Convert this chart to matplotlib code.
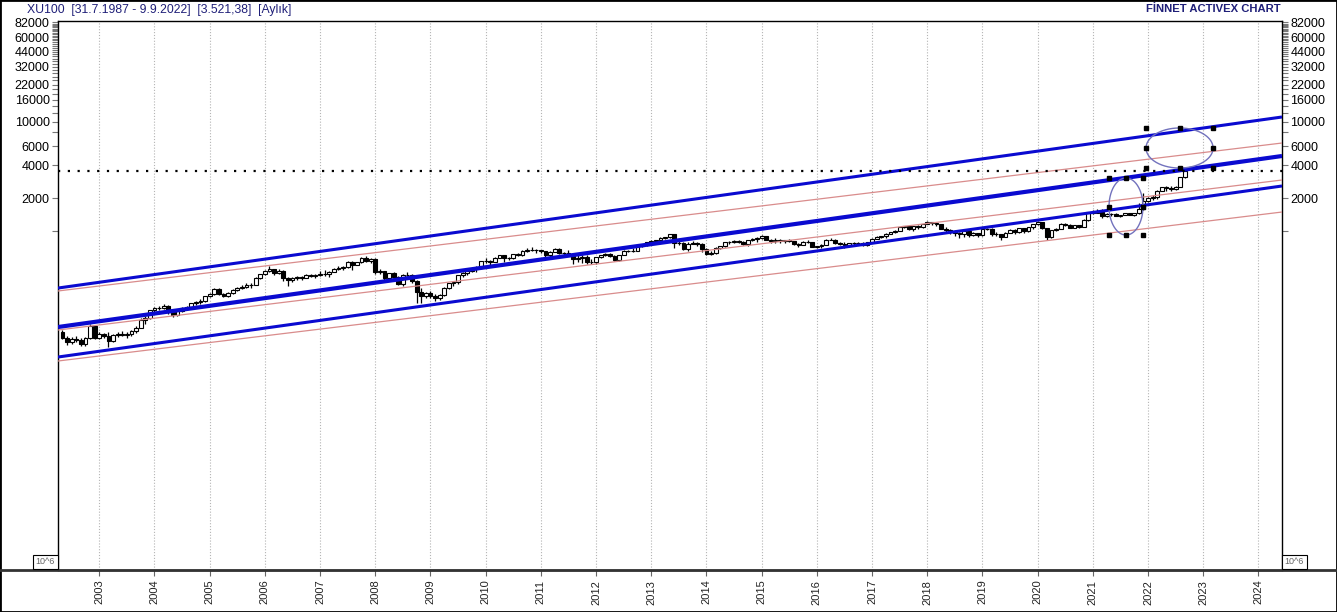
import numpy as np
import matplotlib
matplotlib.use("Agg")
import matplotlib.pyplot as plt
from matplotlib.lines import Line2D
from matplotlib.patches import Rectangle
from matplotlib.ticker import FixedLocator, FuncFormatter, NullLocator

# XU100 aylik mumlar: Mayis 2002 - Eylul 2022 (her satir bir yil)
first_year, first_month = 2002, 5

opens = [
    118, 104, 95, 102, 100, 92, 103, 134,
    104, 113, 109, 97, 110, 112, 111, 112, 119, 129, 153, 158,
    186, 194, 197, 206, 178, 170, 182, 196, 198, 215, 221, 226,
    250, 262, 290, 260, 253, 268, 283, 301, 307, 321, 318, 370,
    398, 425, 443, 410, 425, 370, 356, 370, 377, 371, 393, 388,
    391, 405, 404, 422, 449, 460, 467, 520, 488, 513, 565, 530,
    554, 416, 425, 367, 409, 374, 326, 396, 391, 345, 274, 251,
    268, 253, 239, 256, 301, 329, 338, 391, 411, 426, 442, 455,
    528, 527, 518, 567, 597, 557, 563, 607, 597, 657, 673, 663,
    661, 648, 594, 644, 679, 630, 631, 615, 550, 566, 570, 521,
    513, 574, 596, 617, 592, 539, 601, 654, 649, 659, 724, 735,
    787, 806, 815, 858, 876, 933, 768, 773, 677, 761, 776, 751,
    674, 617, 626, 699, 721, 788, 786, 799, 796, 749, 815, 848,
    858, 888, 824, 801, 823, 800, 820, 807, 754, 744, 794, 781,
    717, 723, 746, 830, 829, 772, 763, 739, 767, 765, 777, 740,
    781, 845, 883, 887, 943, 982, 1005, 1073, 1103, 1028, 1095, 1083,
    1153, 1205, 1175, 1148, 1049, 1021, 967, 959, 926, 991, 907, 946,
    913, 1043, 1029, 931, 927, 886, 963, 1022, 972, 1050, 995, 1074,
    1144, 1196, 1050, 877, 1010, 1040, 1158, 1121, 1065, 1129, 1086, 1248,
    1477, 1471, 1484, 1362, 1414, 1423, 1375, 1391, 1465, 1389, 1457, 1580,
    1858, 1992, 2025, 2334, 2527, 2468, 2407, 2524, 3093,
]
highs = [
    122, 108, 106, 108, 103, 106, 140, 137,
    118, 116, 117, 113, 118, 121, 118, 122, 133, 157, 166, 189,
    200, 205, 214, 210, 185, 185, 198, 203, 218, 228, 235, 252,
    270, 296, 300, 270, 272, 290, 305, 315, 335, 333, 375, 400,
    438, 470, 450, 445, 435, 380, 380, 385, 388, 400, 405, 400,
    425, 440, 428, 455, 470, 478, 525, 530, 520, 580, 590, 565,
    560, 445, 430, 412, 420, 385, 400, 420, 400, 355, 300, 275,
    280, 262, 262, 305, 335, 345, 395, 420, 432, 460, 470, 530,
    565, 540, 575, 605, 600, 580, 610, 625, 660, 690, 715, 675,
    670, 655, 650, 700, 690, 640, 660, 620, 600, 600, 600, 550,
    575, 605, 625, 630, 600, 605, 660, 670, 690, 735, 745, 790,
    820, 825, 870, 885, 935, 935, 800, 790, 790, 805, 790, 770,
    700, 650, 705, 730, 795, 805, 820, 830, 805, 820, 855, 875,
    915, 895, 845, 850, 835, 830, 835, 810, 780, 810, 815, 790,
    730, 750, 835, 865, 835, 790, 790, 780, 785, 790, 785, 785,
    850, 890, 905, 950, 985, 1010, 1080, 1105, 1110, 1100, 1120, 1160,
    1220, 1210, 1185, 1160, 1085, 1030, 1010, 980, 1000, 1000, 970, 960,
    1050, 1070, 1055, 975, 940, 970, 1040, 1030, 1060, 1070, 1085, 1150,
    1240, 1210, 1070, 1020, 1050, 1180, 1170, 1155, 1135, 1140, 1270, 1480,
    1550, 1570, 1590, 1450, 1460, 1445, 1410, 1470, 1470, 1460, 1810, 2200,
    2040, 2110, 2350, 2540, 2560, 2560, 2590, 3120, 3560,
]
lows = [
    101, 90, 91, 96, 88, 87, 101, 101,
    102, 103, 86, 95, 105, 107, 104, 108, 115, 127, 140, 154,
    180, 186, 190, 172, 160, 165, 178, 188, 195, 210, 212, 222,
    244, 258, 255, 245, 245, 262, 278, 290, 300, 300, 315, 360,
    392, 418, 395, 405, 345, 310, 342, 352, 355, 368, 375, 370,
    385, 385, 380, 415, 432, 435, 460, 435, 480, 505, 520, 505,
    400, 405, 350, 360, 370, 318, 310, 385, 330, 215, 215, 240,
    240, 228, 233, 252, 295, 310, 325, 380, 395, 415, 420, 450,
    510, 490, 515, 560, 520, 535, 555, 585, 590, 645, 655, 630,
    620, 580, 570, 640, 615, 595, 610, 500, 520, 510, 500, 495,
    495, 565, 590, 575, 525, 530, 595, 640, 640, 655, 705, 725,
    775, 780, 790, 835, 860, 700, 735, 660, 650, 750, 720, 640,
    600, 605, 610, 680, 715, 760, 770, 770, 735, 720, 800, 785,
    845, 815, 770, 780, 780, 770, 795, 735, 715, 735, 775, 705,
    690, 700, 740, 815, 750, 745, 700, 730, 745, 755, 720, 725,
    770, 840, 865, 865, 935, 960, 1000, 1060, 1010, 1000, 1040, 1070,
    1150, 1140, 1110, 1040, 970, 930, 900, 860, 880, 880, 900, 885,
    890, 1010, 900, 900, 830, 870, 950, 930, 960, 960, 985, 1040,
    1140, 1040, 820, 860, 995, 1035, 1100, 1050, 1055, 1070, 1075, 1240,
    1440, 1445, 1310, 1340, 1380, 1360, 1350, 1385, 1385, 1380, 1440, 1560,
    1830, 1920, 1960, 2320, 2300, 2340, 2350, 2500, 3080,
]
closes = [
    104, 95, 102, 100, 92, 103, 134, 104,
    113, 109, 97, 110, 112, 111, 112, 119, 129, 153, 158, 186,
    194, 197, 206, 178, 170, 182, 196, 198, 215, 221, 226, 250,
    262, 290, 260, 253, 268, 283, 301, 307, 321, 318, 370, 398,
    425, 443, 410, 425, 370, 356, 370, 377, 371, 393, 388, 391,
    405, 404, 422, 449, 460, 467, 520, 488, 513, 565, 530, 554,
    416, 425, 367, 409, 374, 326, 396, 391, 345, 274, 251, 268,
    253, 239, 256, 301, 329, 338, 391, 411, 426, 442, 455, 528,
    527, 518, 567, 597, 557, 563, 607, 597, 657, 673, 663, 661,
    648, 594, 644, 679, 630, 631, 615, 550, 566, 570, 521, 513,
    574, 596, 617, 592, 539, 601, 654, 649, 659, 724, 735, 787,
    806, 815, 858, 876, 933, 768, 773, 677, 761, 776, 751, 674,
    617, 626, 699, 721, 788, 786, 799, 796, 749, 815, 848, 858,
    888, 824, 801, 823, 800, 820, 807, 754, 744, 794, 781, 717,
    723, 746, 830, 829, 772, 763, 739, 767, 765, 777, 740, 781,
    845, 883, 887, 943, 982, 1005, 1073, 1103, 1028, 1095, 1083, 1153,
    1205, 1175, 1148, 1049, 1021, 967, 959, 926, 991, 907, 946, 913,
    1043, 1029, 931, 927, 886, 963, 1022, 972, 1050, 995, 1074, 1144,
    1196, 1050, 877, 1010, 1040, 1158, 1121, 1065, 1129, 1086, 1248, 1477,
    1471, 1484, 1362, 1414, 1423, 1375, 1391, 1465, 1389, 1457, 1580, 1858,
    1992, 2025, 2334, 2527, 2468, 2407, 2524, 3093, 3521.38,
]

last_value = 3521.38

# kanal cizgileri: grafik sol ve sag kenarindaki degerler
edge_years = [2002.252, 2024.426]
blue_lines = {
    "ust": [298, 11090],
    "orta": [130.7, 4861],
    "alt": [69.3, 2578],
}
red_lines = [
    [280, 6397],
    [122.7, 2926],
    [63.7, 1487],
]

# elipsler: merkez yil, merkez deger, yarim genislik (yil), yarim yukseklik (log10)
ellipses = [
    (2021.60, 1671, 0.308, 0.262),
    (2022.57, 5756, 0.607, 0.184),
]

year_ticks = list(range(2003, 2025))
y_tick_vals = [1000] + list(range(2000, 84000, 2000))
y_tick_labels = [2000, 4000, 6000, 10000, 16000, 22000, 32000, 44000, 60000, 82000]

W, H = 1337, 612
fig = plt.figure(figsize=(W / 100, H / 100), dpi=100)
ax = fig.add_axes([58 / W, 42 / H, 1224 / W, 549 / H])
ax.set_yscale("log")
ax.set_xlim(edge_years)
ax.set_ylim(0.7674, 84420)

# mumlar
n = len(closes)
xs = np.array([first_year + (first_month - 1 + i) / 12 for i in range(n)])
o = np.array(opens, float)
c = np.array(closes, float)
ax.vlines(xs, lows, highs, color="black", lw=0.9, zorder=3)
body_bottom = np.minimum(o, c)
body_h = np.maximum(np.abs(c - o), 0.4)
faces = ["white" if cc >= oo else "black" for oo, cc in zip(o, c)]
ax.bar(xs, body_h, bottom=body_bottom, width=0.066, color=faces,
       edgecolor="black", lw=0.8, zorder=3.5)

# kanal
blue_w = {"ust": 2.2, "orta": 3.0, "alt": 2.2}
for k, v in blue_lines.items():
    ax.plot(edge_years, v, color="#0a0ad0", lw=blue_w[k], zorder=4,
            solid_capstyle="butt")
for v in red_lines:
    ax.plot(edge_years, v, color="#d98c8c", lw=0.9, zorder=3.8)

# son deger cizgisi
ax.axhline(last_value, color="black", lw=1.6, ls=(0, (1.0, 3.4)), zorder=4.2)

# elipsler ve tutamaclar
t = np.linspace(0, 2 * np.pi, 240)
for xc, yc, a, b in ellipses:
    ax.plot(xc + a * np.cos(t), yc * 10 ** (b * np.sin(t)),
            color="#7272bd", lw=1.0, zorder=5)
    hx, hy = [], []
    for i in (-1, 0, 1):
        for j in (-1, 0, 1):
            if i == 0 and j == 0:
                continue
            hx.append(xc + i * a)
            hy.append(yc * 10 ** (j * b))
    ax.plot(hx, hy, ls="none", marker="s", ms=3.0, color="black", zorder=6)

# eksenler
ax.set_xticks(year_ticks)
ax.set_xticklabels([str(y) for y in year_ticks], rotation=90, fontsize=8,
                   family="Liberation Sans", color="#222222")
ax.tick_params(axis="x", direction="out", length=4, pad=3, color="#666666")
ax.grid(axis="x", color="#b4b4b4", ls=(0, (1, 1.6)), lw=0.8, zorder=1)

ax.yaxis.set_major_locator(FixedLocator(y_tick_vals))
ax.yaxis.set_minor_locator(NullLocator())
ax.yaxis.set_major_formatter(FuncFormatter(
    lambda v, p: f"{int(round(v))}" if int(round(v)) in y_tick_labels else ""))
ax.tick_params(axis="y", which="major", left=True, right=True,
               labelleft=True, labelright=True, direction="out",
               length=4, width=0.8, color="#777777", labelsize=9, pad=2)
for lab in ax.get_yticklabels():
    lab.set_family("Liberation Sans")

for s in ax.spines.values():
    s.set_color("black")
    s.set_linewidth(1.0)

# cerceve ve baslik
fig.add_artist(Line2D([0, 1], [42 / H, 42 / H], transform=fig.transFigure,
                      color="#333333", lw=2.0))
fig.add_artist(Rectangle((0, 0), 1, 1, transform=fig.transFigure,
                         fill=False, ec="black", lw=2.0))
fig.text(27 / W, 1 - 9.5 / H,
         "XU100  [31.7.1987 - 9.9.2022]  [3.521,38]  [Aylık]",
         ha="left", va="center", fontsize=8.8, color="#1f1f78",
         family="Liberation Sans")
fig.text(1281 / W, 1 - 9.5 / H, "FİNNET ACTIVEX CHART",
         ha="right", va="center", fontsize=8.1, color="#1f1f78",
         fontweight="bold", family=["Liberation Sans Narrow", "Liberation Sans"])
for bx in (45.5, 1294.5):
    fig.text(bx / W, 1 - 562 / H, "10^6", ha="center", va="center",
             fontsize=6.5, color="#666666", family="Liberation Sans",
             bbox=dict(boxstyle="square,pad=0.3", fc="white", ec="black", lw=0.8))

fig.savefig("out.png", dpi=100)
